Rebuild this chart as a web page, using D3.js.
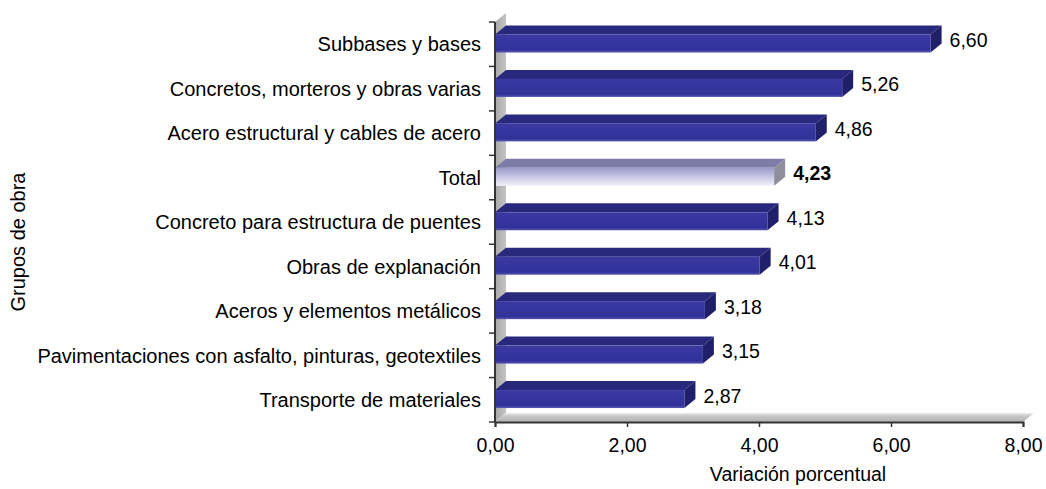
<!DOCTYPE html>
<html>
<head>
<meta charset="utf-8">
<script src="https://cdn.jsdelivr.net/npm/d3@7"></script>
<style>
  body { margin: 0; background: #fff; }
  text { font-family: "Liberation Sans", Arial, sans-serif; fill: #000; }
</style>
</head>
<body>
<div id="chart"></div>
<script>
// grupos de obra, variacion porcentual
var categories = ["Subbases y bases", "Concretos, morteros y obras varias", "Acero estructural y cables de acero",
  "Total", "Concreto para estructura de puentes", "Obras de explanación", "Aceros y elementos metálicos",
  "Pavimentaciones con asfalto, pinturas, geotextiles", "Transporte de materiales"];
var values = [6.60, 5.26, 4.86, 4.23, 4.13, 4.01, 3.18, 3.15, 2.87];
var labels = ["6,60", "5,26", "4,86", "4,23", "4,13", "4,01", "3,18", "3,15", "2,87"];
var xTicks = [0, 2, 4, 6, 8];
var xTickLabels = ["0,00", "2,00", "4,00", "6,00", "8,00"];

var w_width = 1046, w_height = 489;
var dx = 11, dy = 9;   // profundidad 3d

var svg = d3.select('#chart').append('svg')
  .attr('width', w_width)
  .attr('height', w_height)

var x = d3.scaleLinear().domain([0, 8]).range([495, 1023])
var y = d3.scaleBand().domain(categories).range([22, 422])

var defs = svg.append('defs')
var gTot = defs.append('linearGradient').attr('id', 'gTot').attr('x1', 0).attr('y1', 0).attr('x2', 0).attr('y2', 1)
gTot.append('stop').attr('offset', '0%').attr('stop-color', '#9a9acb')
gTot.append('stop').attr('offset', '100%').attr('stop-color', '#f2f2fb')
var gBlue = defs.append('linearGradient').attr('id', 'gBlue').attr('x1', 0).attr('y1', 0).attr('x2', 0).attr('y2', 1)
gBlue.append('stop').attr('offset', '0%').attr('stop-color', '#3a3aa2')
gBlue.append('stop').attr('offset', '85%').attr('stop-color', '#31319a')
gBlue.append('stop').attr('offset', '100%').attr('stop-color', '#5656b0')
var gFloor = defs.append('linearGradient').attr('id', 'gFloor').attr('x1', 0).attr('y1', 0).attr('x2', 0).attr('y2', 1)
gFloor.append('stop').attr('offset', '0%').attr('stop-color', '#ededed')
gFloor.append('stop').attr('offset', '35%').attr('stop-color', '#c6c6c6')
gFloor.append('stop').attr('offset', '100%').attr('stop-color', '#b4b4b4')
var gWall = defs.append('linearGradient').attr('id', 'gWall').attr('x1', 0).attr('y1', 0).attr('x2', 1).attr('y2', 0)
gWall.append('stop').attr('offset', '0%').attr('stop-color', '#a8a8a8')
gWall.append('stop').attr('offset', '100%').attr('stop-color', '#c4c4c4')

var x0 = x(0), yB = y.range()[1], yT = y.range()[0]

// pared y piso
svg.append('path')
  .attr('d', 'M' + x0 + ',' + yT + 'L' + (x0 + dx) + ',' + (yT - dy) + 'L' + (x0 + dx) + ',' + (yB - dy) + 'L' + x0 + ',' + yB + 'Z')
  .attr('fill', 'url(#gWall)')
svg.append('path')
  .attr('d', 'M' + x0 + ',' + yB + 'L' + (x0 + dx) + ',' + (yB - dy) + 'L' + (x(8) + dx) + ',' + (yB - dy) + 'L' + x(8) + ',' + yB + 'Z')
  .attr('fill', 'url(#gFloor)')

// barras
var bars = svg.selectAll('g.bar')
  .data(values)
  .enter()
  .append('g')
  .attr('class', 'bar')

function isTot(i) { return categories[i] == "Total" }

bars.each(function(d, i) {
  var g = d3.select(this)
  var b = y(categories[i])
  var ft = b + 12.5, fb = b + 30.5
  var xe = x(d)
  // cara superior
  g.append('path')
    .attr('d', 'M' + x0 + ',' + ft + 'L' + (x0 + dx) + ',' + (ft - dy) + 'L' + (xe + dx) + ',' + (ft - dy) + 'L' + xe + ',' + ft + 'Z')
    .attr('fill', isTot(i) ? '#7c7ca6' : '#28287c')
  // frente
  g.append('rect')
    .attr('x', x0).attr('y', ft)
    .attr('width', xe - x0).attr('height', fb - ft)
    .attr('fill', isTot(i) ? 'url(#gTot)' : 'url(#gBlue)')
  // lado derecho
  g.append('path')
    .attr('d', 'M' + xe + ',' + ft + 'L' + (xe + dx) + ',' + (ft - dy) + 'L' + (xe + dx) + ',' + (fb - dy) + 'L' + xe + ',' + fb + 'Z')
    .attr('fill', isTot(i) ? '#8e8e9c' : '#20206a')
  g.append('text')
    .attr('x', xe + dx + 8)
    .attr('y', b + 18)
    .attr('dominant-baseline', 'central')
    .style('font-size', '19.5px')
    .style('font-weight', isTot(i) ? 'bold' : 'normal')
    .text(labels[i])
})

// ejes
var yAxis = svg.append('g').attr('transform', 'translate(' + x0 + ',0)')
  .call(d3.axisLeft(y).tickSize(6).tickPadding(8))
yAxis.select('.domain').remove()
yAxis.selectAll('.tick line').remove()
yAxis.selectAll('.tick text').style('font-size', '20px').attr('fill', '#000').attr('dy', '0.36em')
y.domain().concat(['_end']).forEach(function(c, i) {
  var yy = yT + i * y.step()
  svg.append('line').attr('x1', x0 - 6).attr('x2', x0).attr('y1', yy).attr('y2', yy)
    .attr('stroke', '#333').attr('stroke-width', 1.5)
})
svg.append('line').attr('x1', x0).attr('x2', x0).attr('y1', yT).attr('y2', yB)
  .attr('stroke', '#333').attr('stroke-width', 2)

var xAxis = svg.append('g').attr('transform', 'translate(0,' + yB + ')')
  .call(d3.axisBottom(x).tickValues(xTicks).tickSize(5).tickPadding(11).tickFormat(function(d, i) { return xTickLabels[i] }))
xAxis.select('.domain').attr('stroke', '#333').attr('stroke-width', 2)
xAxis.selectAll('.tick line').attr('stroke', '#333').attr('stroke-width', 1.5)
xAxis.selectAll('.tick text').style('font-size', '19.5px').attr('fill', '#000')

svg.append('text').text('Variación porcentual')
  .attr('x', 798).attr('y', 481)
  .attr('text-anchor', 'middle')
  .style('font-size', '19.5px')
svg.append('text').text('Grupos de obra')
  .attr('transform', 'translate(25,242) rotate(-90)')
  .attr('text-anchor', 'middle')
  .style('font-size', '20px')
</script>
</body>
</html>
